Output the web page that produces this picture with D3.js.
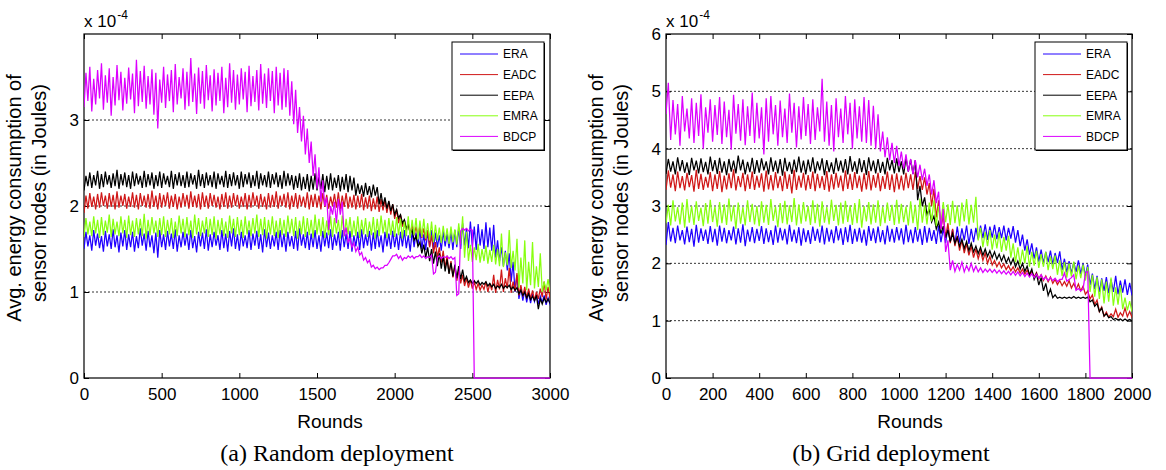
<!DOCTYPE html>
<html lang="en">
<head>
<meta charset="UTF-8">
<title>Avg. energy consumption</title>
<script src="https://d3js.org/d3.v7.min.js"></script>
<style>
body { margin: 0; background: #fff; }
text { font-family: 'Liberation Sans', Arial, sans-serif; fill: #000; }
.caption { font-family: 'Liberation Serif', 'Times New Roman', serif; }
</style>
</head>
<body>
<div id="chart"></div>
<script>

// ---- data (values in units of 1e-4 J) ----
// the curves are very noisy, so every series is kept as the lower and upper
// edge of its noise band at a fixed round step
const seriesNames = ['ERA', 'EADC', 'EEPA', 'EMRA', 'BDCP']
const seriesColors = ['#2000ff', '#d01818', '#000000', '#88ff10', '#dc00ff']

// (a) random deployment, one sample every 25 rounds, 0..3000
const stepA = 25
const xTicksA = [0, 500, 1000, 1500, 2000, 2500, 3000]
const yTicksA = [0, 1, 2, 3]

const eraLoA = [
1.50,1.53,1.48,1.54,1.51,1.47,1.53,1.50,1.52,1.46,
1.53,1.49,1.52,1.47,1.51,1.54,1.48,1.52,1.45,1.40,
1.52,1.49,1.53,1.50,1.47,1.52,1.54,1.49,1.51,1.46,
1.53,1.50,1.48,1.52,1.54,1.49,1.51,1.47,1.53,1.50,
1.48,1.53,1.51,1.49,1.54,1.50,1.46,1.52,1.50,1.53,
1.49,1.52,1.47,1.53,1.50,1.48,1.54,1.51,1.49,1.52,
1.50,1.47,1.53,1.51,1.49,1.54,1.48,1.52,1.50,1.47,
1.53,1.49,1.51,1.54,1.48,1.50,1.52,1.46,1.53,1.50,
1.52,1.49,1.53,1.51,1.47,1.52,1.54,1.50,1.49,1.53,
1.50,1.52,1.48,1.53,1.51,1.49,1.52,1.50,1.54,1.51,
1.53,1.49,1.54,1.50,1.52,1.48,1.40,1.36,1.30,1.25,
1.12,1.00,0.92,0.90,0.88,0.87,0.89,0.86,0.88,0.85,
0.86]
const eraHiA = [
1.70,1.66,1.72,1.68,1.65,1.71,1.67,1.73,1.66,1.69,
1.72,1.67,1.70,1.65,1.74,1.68,1.71,1.66,1.69,1.72,
1.67,1.71,1.68,1.73,1.66,1.70,1.68,1.72,1.65,1.70,
1.69,1.73,1.67,1.70,1.66,1.72,1.68,1.71,1.74,1.67,
1.70,1.66,1.72,1.68,1.71,1.67,1.73,1.69,1.66,1.70,
1.72,1.68,1.70,1.65,1.71,1.74,1.67,1.70,1.68,1.72,
1.66,1.71,1.69,1.73,1.67,1.70,1.72,1.68,1.71,1.66,
1.70,1.73,1.67,1.71,1.69,1.72,1.66,1.70,1.68,1.71,
1.68,1.70,1.72,1.66,1.71,1.69,1.73,1.67,1.70,1.72,
1.69,1.66,1.71,1.68,1.70,1.72,1.75,1.80,1.74,1.82,
1.76,1.79,1.73,1.81,1.75,1.78,1.60,1.52,1.48,1.45,
1.35,1.20,1.05,1.02,1.00,0.98,0.97,0.95,0.96,0.93,
0.95]
const eadcLoA = [
1.92,1.97,1.99,1.96,1.98,2.00,1.97,1.99,1.96,1.98,
2.00,1.97,1.99,1.98,1.96,2.00,1.98,1.97,1.99,1.96,
1.98,2.00,1.97,1.99,1.96,1.98,2.00,1.97,1.99,1.98,
1.96,1.99,1.97,2.00,1.98,1.96,1.99,1.97,1.98,2.00,
1.97,1.99,1.96,1.98,2.00,1.97,1.99,1.96,1.98,1.99,
1.97,2.00,1.98,1.96,1.99,1.97,2.00,1.98,1.96,1.99,
1.98,1.96,1.99,1.97,2.00,1.98,1.96,1.99,1.97,1.98,
1.96,1.98,1.95,1.97,1.94,1.96,1.93,1.95,1.92,1.90,
1.85,1.80,1.76,1.72,1.68,1.66,1.65,1.63,1.60,1.52,
1.45,1.40,1.34,1.28,1.22,1.17,1.13,1.10,1.07,1.05,
1.04,1.03,1.02,1.03,1.00,1.02,0.99,1.03,1.00,1.04,
0.99,1.01,0.96,0.95,0.93,0.92,0.90,0.92,0.94,0.91,
0.93]
const eadcHiA = [
2.12,2.15,2.11,2.14,2.16,2.12,2.15,2.13,2.17,2.12,
2.14,2.11,2.16,2.13,2.15,2.12,2.14,2.18,2.12,2.15,
2.13,2.16,2.12,2.14,2.11,2.15,2.13,2.17,2.12,2.14,
2.16,2.12,2.15,2.13,2.11,2.14,2.16,2.12,2.15,2.13,
2.11,2.15,2.13,2.16,2.12,2.14,2.11,2.15,2.13,2.17,
2.12,2.14,2.16,2.12,2.15,2.13,2.11,2.16,2.13,2.14,
2.12,2.15,2.13,2.11,2.14,2.16,2.12,2.15,2.11,2.13,
2.12,2.14,2.10,2.12,2.09,2.11,2.08,2.07,2.05,2.02,
1.96,1.90,1.84,1.80,1.78,1.76,1.77,1.74,1.72,1.66,
1.58,1.52,1.48,1.42,1.36,1.30,1.25,1.20,1.16,1.14,
1.12,1.10,1.08,1.12,1.10,1.20,1.14,1.26,1.16,1.28,
1.12,1.22,1.08,1.06,1.04,1.02,1.00,1.04,1.12,1.06,
1.08]
const eepaLoA = [
2.18,2.23,2.21,2.24,2.20,2.22,2.25,2.21,2.23,2.20,
2.24,2.22,2.20,2.23,2.25,2.21,2.22,2.24,2.20,2.23,
2.21,2.25,2.22,2.20,2.24,2.23,2.21,2.22,2.25,2.20,
2.23,2.21,2.24,2.22,2.20,2.25,2.22,2.21,2.23,2.24,
2.20,2.22,2.25,2.21,2.23,2.20,2.24,2.22,2.21,2.25,
2.22,2.20,2.23,2.24,2.19,2.21,2.18,2.20,2.17,2.19,
2.18,2.20,2.16,2.19,2.18,2.21,2.17,2.19,2.16,2.18,
2.12,2.14,2.11,2.13,2.10,2.12,2.02,2.00,1.97,1.94,
1.90,1.86,1.80,1.74,1.68,1.60,1.53,1.45,1.40,1.36,
1.33,1.30,1.27,1.24,1.21,1.18,1.16,1.15,1.13,1.11,
1.10,1.10,1.08,1.09,1.07,1.06,1.04,1.05,1.04,1.05,
1.03,1.02,0.98,0.96,0.93,0.91,0.90,0.80,0.86,0.88,
0.87]
const eepaHiA = [
2.35,2.39,2.36,2.41,2.37,2.40,2.36,2.38,2.42,2.37,
2.39,2.36,2.40,2.38,2.35,2.41,2.37,2.39,2.36,2.40,
2.38,2.35,2.41,2.37,2.39,2.36,2.40,2.38,2.36,2.42,
2.37,2.39,2.36,2.40,2.38,2.35,2.41,2.37,2.39,2.36,
2.40,2.37,2.39,2.36,2.41,2.38,2.36,2.40,2.37,2.39,
2.36,2.41,2.38,2.36,2.35,2.38,2.34,2.37,2.35,2.38,
2.34,2.37,2.35,2.38,2.33,2.36,2.34,2.37,2.35,2.33,
2.26,2.24,2.27,2.23,2.25,2.22,2.15,2.10,2.06,2.02,
1.96,1.90,1.84,1.78,1.72,1.65,1.58,1.55,1.52,1.50,
1.47,1.45,1.42,1.38,1.34,1.32,1.30,1.26,1.18,1.14,
1.13,1.13,1.11,1.12,1.10,1.09,1.07,1.09,1.07,1.08,
1.06,1.05,1.02,1.00,0.98,0.95,0.96,0.92,0.93,0.92,
0.91]
const emraLoA = [
1.64,1.67,1.65,1.68,1.63,1.66,1.69,1.64,1.67,1.65,
1.68,1.63,1.66,1.64,1.67,1.65,1.62,1.66,1.68,1.64,
1.66,1.64,1.67,1.63,1.65,1.68,1.64,1.66,1.63,1.67,
1.65,1.68,1.64,1.66,1.62,1.67,1.65,1.63,1.68,1.64,
1.66,1.63,1.67,1.65,1.68,1.64,1.66,1.62,1.67,1.65,
1.63,1.66,1.64,1.68,1.65,1.62,1.67,1.64,1.66,1.63,
1.67,1.65,1.63,1.66,1.64,1.68,1.62,1.65,1.67,1.64,
1.65,1.63,1.67,1.64,1.66,1.62,1.65,1.68,1.63,1.66,
1.64,1.66,1.62,1.65,1.63,1.66,1.61,1.64,1.62,1.60,
1.58,1.60,1.57,1.59,1.56,1.58,1.55,1.56,1.40,1.36,
1.35,1.37,1.34,1.36,1.33,1.35,1.32,1.30,1.29,1.31,
1.28,1.25,1.05,1.10,1.02,1.08,1.04,1.06,1.00,1.02,
1.00]
const emraHiA = [
1.86,1.82,1.88,1.84,1.87,1.83,1.90,1.85,1.82,1.88,
1.84,1.89,1.83,1.86,1.85,1.91,1.84,1.87,1.83,1.86,
1.88,1.84,1.86,1.82,1.89,1.85,1.87,1.83,1.90,1.86,
1.83,1.87,1.85,1.88,1.84,1.86,1.82,1.89,1.85,1.87,
1.84,1.88,1.83,1.86,1.90,1.85,1.87,1.84,1.88,1.83,
1.86,1.84,1.89,1.85,1.87,1.83,1.88,1.86,1.84,1.90,
1.85,1.87,1.83,1.88,1.86,1.84,1.89,1.85,1.87,1.83,
1.88,1.84,1.86,1.82,1.87,1.85,1.89,1.84,1.86,1.83,
1.87,1.85,1.82,1.88,1.84,1.86,1.83,1.85,1.80,1.82,
1.78,1.75,1.77,1.74,1.76,1.73,1.80,1.88,1.70,1.55,
1.52,1.56,1.50,1.54,1.49,1.55,1.50,1.68,1.46,1.72,
1.48,1.62,1.40,1.60,1.35,1.58,1.30,1.45,1.12,1.15,
1.10]
const bdcpLoA = [
3.15,3.22,3.10,3.18,3.25,3.12,3.20,3.05,3.17,3.23,
3.11,3.19,3.24,3.08,3.16,3.21,3.13,3.18,3.06,2.90,
3.20,3.14,3.22,3.09,3.18,3.25,3.12,3.16,3.21,3.07,
3.19,3.13,3.23,3.10,3.17,3.22,3.08,3.15,3.20,3.12,
3.18,3.24,3.09,3.16,3.21,3.11,3.19,3.14,3.22,3.08,
3.17,3.12,3.15,3.05,2.95,2.85,2.75,2.60,2.50,2.35,
2.20,2.05,2.00,1.72,1.90,1.80,1.90,1.65,1.58,1.52,
1.47,1.43,1.37,1.34,1.29,1.27,1.26,1.28,1.31,1.38,
1.42,1.39,1.37,1.39,1.40,1.39,1.41,1.40,1.39,1.40,
1.21,1.40,1.39,1.40,1.39,1.38,0.96,1.71,1.72,1.71,
1.72,0,0,0,0,0,0,0,0,0,
0,0,0,0,0,0,0,0,0,0,
0]
// sample 100: the curve falls from 1.72 straight to zero at ~2505 rounds
const bdcpHiA = [
3.55,3.62,3.48,3.58,3.66,3.52,3.60,3.50,3.64,3.56,
3.49,3.61,3.54,3.70,3.57,3.63,3.51,3.59,3.55,3.47,
3.62,3.53,3.58,3.65,3.50,3.60,3.56,3.72,3.54,3.61,
3.57,3.64,3.52,3.59,3.55,3.62,3.49,3.66,3.58,3.53,
3.60,3.56,3.63,3.51,3.58,3.65,3.54,3.60,3.57,3.62,
3.55,3.60,3.58,3.45,3.35,3.15,3.05,2.90,2.75,2.60,
2.45,2.30,2.10,2.00,2.05,2.08,2.05,1.75,1.62,1.57,
1.52,1.46,1.40,1.37,1.31,1.29,1.28,1.31,1.34,1.42,
1.44,1.42,1.40,1.42,1.42,1.41,1.43,1.42,1.41,1.43,
1.23,1.42,1.41,1.42,1.41,1.40,0.98,1.74,1.74,1.73,
0,0,0,0,0,0,0,0,0,0,
0,0,0,0,0,0,0,0,0,0,
0]

// (b) grid deployment, one sample every 20 rounds, 0..2000
const stepB = 20
const xTicksB = [0, 200, 400, 600, 800, 1000, 1200, 1400, 1600, 1800, 2000]
const yTicksB = [0, 1, 2, 3, 4, 5, 6]

const eraLoB = [
2.32,2.38,2.35,2.40,2.33,2.37,2.29,2.36,2.39,2.34,
2.37,2.31,2.38,2.35,2.40,2.33,2.36,2.30,2.38,2.35,
2.39,2.34,2.37,2.32,2.36,2.40,2.33,2.38,2.35,2.31,
2.37,2.34,2.39,2.36,2.33,2.38,2.35,2.40,2.32,2.37,
2.34,2.38,2.36,2.31,2.39,2.35,2.37,2.33,2.38,2.36,
2.40,2.33,2.37,2.35,2.38,2.32,2.36,2.39,2.34,2.37,
2.35,2.38,2.33,2.36,2.40,2.34,2.37,2.42,2.44,2.41,
2.45,2.42,2.44,2.40,2.43,2.36,2.30,2.22,2.15,2.08,
2.03,2.00,2.02,1.98,2.01,1.88,1.84,1.82,1.85,1.81,
1.78,1.62,1.55,1.50,1.52,1.48,1.50,1.46,1.49,1.45,
1.44]
const eraHiB = [
2.72,2.62,2.66,2.58,2.64,2.60,2.67,2.61,2.59,2.65,
2.60,2.66,2.62,2.58,2.64,2.61,2.68,2.59,2.63,2.60,
2.65,2.61,2.58,2.66,2.62,2.60,2.67,2.59,2.63,2.61,
2.58,2.64,2.60,2.66,2.62,2.59,2.65,2.61,2.63,2.67,
2.60,2.62,2.59,2.65,2.61,2.64,2.58,2.66,2.60,2.63,
2.61,2.67,2.59,2.63,2.60,2.65,2.62,2.58,2.66,2.61,
2.63,2.59,2.64,2.61,2.66,2.60,2.62,2.66,2.68,2.64,
2.67,2.63,2.66,2.62,2.65,2.58,2.50,2.42,2.35,2.28,
2.24,2.20,2.22,2.18,2.21,2.08,2.04,2.02,2.05,2.00,
1.98,1.82,1.78,1.74,1.76,1.72,1.78,1.70,1.72,1.66,
1.62]
const eadcLoB = [
3.28,3.32,3.26,3.31,3.27,3.33,3.25,3.30,3.28,3.32,
3.26,3.30,3.24,3.29,3.31,3.27,3.33,3.26,3.30,3.28,
3.32,3.25,3.29,3.27,3.31,3.26,3.30,3.22,3.28,3.32,
3.27,3.30,3.26,3.31,3.28,3.25,3.29,3.32,3.26,3.30,
3.28,3.31,3.25,3.29,3.27,3.32,3.26,3.30,3.28,3.24,
3.29,3.27,3.31,3.28,3.30,3.28,3.20,3.00,2.80,2.60,
2.45,2.35,2.30,2.22,2.18,2.14,2.10,2.08,2.05,2.00,
1.97,1.94,1.92,1.89,1.87,1.85,1.83,1.81,1.79,1.76,
1.73,1.70,1.68,1.65,1.63,1.61,1.60,1.57,1.55,1.52,
1.46,1.38,1.28,1.16,1.08,1.06,1.07,1.06,1.08,1.07,
1.06]
const eadcHiB = [
3.62,3.55,3.60,3.52,3.58,3.54,3.63,3.56,3.51,3.59,
3.55,3.61,3.53,3.57,3.64,3.52,3.58,3.55,3.60,3.53,
3.57,3.62,3.54,3.59,3.52,3.60,3.55,3.63,3.53,3.58,
3.54,3.60,3.56,3.52,3.61,3.55,3.58,3.53,3.62,3.56,
3.59,3.53,3.57,3.61,3.54,3.58,3.52,3.60,3.55,3.57,
3.53,3.58,3.55,3.60,3.52,3.50,3.40,3.30,3.10,2.85,
2.70,2.60,2.48,2.40,2.34,2.30,2.25,2.22,2.18,2.12,
2.05,2.02,1.99,1.96,1.94,1.92,1.90,1.88,1.86,1.84,
1.80,1.78,1.76,1.72,1.70,1.68,1.70,1.65,1.64,1.60,
1.52,1.45,1.36,1.24,1.15,1.12,1.20,1.14,1.22,1.16,
1.14]
const eepaLoB = [
3.56,3.60,3.55,3.61,3.58,3.54,3.62,3.57,3.59,3.55,
3.61,3.56,3.58,3.54,3.60,3.57,3.62,3.55,3.59,3.56,
3.58,3.62,3.55,3.60,3.57,3.53,3.61,3.56,3.59,3.58,
3.55,3.60,3.57,3.62,3.54,3.59,3.56,3.61,3.58,3.55,
3.60,3.56,3.59,3.54,3.61,3.57,3.58,3.55,3.62,3.57,
3.59,3.55,3.60,3.56,3.10,3.00,2.85,2.72,2.60,2.52,
2.45,2.38,2.35,2.30,2.26,2.22,2.20,2.17,2.14,2.12,
2.10,2.07,2.04,2.01,1.98,1.94,1.90,1.86,1.80,1.72,
1.62,1.52,1.44,1.40,1.39,1.39,1.39,1.39,1.39,1.39,
1.39,1.33,1.25,1.16,1.08,1.05,1.02,1.01,1.00,1.00,
1.00]
const eepaHiB = [
3.82,3.78,3.85,3.80,3.76,3.84,3.79,3.83,3.77,3.86,
3.80,3.84,3.78,3.82,3.79,3.88,3.81,3.77,3.84,3.80,
3.83,3.78,3.85,3.79,3.82,3.84,3.77,3.81,3.86,3.79,
3.81,3.85,3.78,3.83,3.80,3.76,3.84,3.79,3.82,3.87,
3.78,3.83,3.80,3.85,3.79,3.82,3.77,3.84,3.80,3.83,
3.78,3.84,3.81,3.80,3.35,3.15,2.95,2.82,2.72,2.65,
2.58,2.52,2.45,2.42,2.38,2.35,2.30,2.28,2.25,2.22,
2.20,2.16,2.14,2.10,2.08,2.04,2.00,1.95,1.90,1.82,
1.75,1.65,1.55,1.45,1.41,1.41,1.41,1.42,1.41,1.41,
1.41,1.36,1.30,1.22,1.12,1.07,1.04,1.03,1.03,1.02,
1.02]
const emraLoB = [
2.70,2.66,2.73,2.68,2.62,2.71,2.67,2.74,2.65,2.69,
2.72,2.64,2.70,2.67,2.73,2.60,2.69,2.66,2.72,2.68,
2.65,2.71,2.67,2.74,2.63,2.70,2.68,2.72,2.66,2.69,
2.73,2.67,2.70,2.64,2.71,2.68,2.74,2.66,2.69,2.72,
2.67,2.70,2.62,2.73,2.68,2.71,2.65,2.70,2.74,2.67,
2.69,2.72,2.66,2.70,2.58,2.71,2.68,2.73,2.65,2.70,
2.72,2.67,2.70,2.65,2.73,2.68,2.71,2.40,2.28,2.30,
2.24,2.26,2.20,2.22,2.10,2.02,1.98,2.00,1.94,1.96,
1.92,1.94,1.88,1.90,1.80,1.78,1.75,1.77,1.72,1.74,
1.70,1.50,1.42,1.38,1.30,1.33,1.26,1.28,1.20,1.18,
1.16]
const emraHiB = [
3.02,3.10,2.98,3.06,3.12,3.00,3.08,2.97,3.05,3.11,
2.99,3.07,3.03,3.13,3.01,3.06,2.98,3.10,3.04,3.00,
3.08,3.02,3.12,2.99,3.05,3.09,3.01,3.14,3.03,3.07,
3.00,3.10,3.04,3.08,2.98,3.11,3.02,3.06,3.09,3.01,
3.05,3.12,3.00,3.07,3.03,3.10,2.99,3.06,3.02,3.11,
3.04,2.99,3.08,3.02,3.13,3.01,3.06,3.10,3.00,3.07,
3.03,3.09,3.01,3.06,3.12,3.02,3.16,2.62,2.55,2.58,
2.50,2.54,2.46,2.48,2.35,2.28,2.24,2.30,2.20,2.22,
2.16,2.20,2.12,2.14,2.05,2.02,2.00,2.03,1.96,1.98,
1.94,1.80,1.76,1.72,1.68,1.75,1.58,1.62,1.40,1.34,
1.30]
const bdcpLoB = [
4.60,4.15,4.25,4.05,4.30,4.18,4.10,4.22,4.00,4.28,
4.12,4.24,4.08,4.20,3.98,4.26,4.14,4.06,4.22,4.10,
4.18,3.90,4.12,4.25,4.05,4.20,4.10,4.28,4.02,4.16,
4.22,4.08,4.15,4.30,4.12,4.05,3.95,4.20,4.10,4.25,
4.00,4.18,4.12,4.10,4.05,4.00,3.95,3.85,3.80,3.75,
3.70,3.65,3.60,3.55,3.50,3.45,3.35,3.20,3.05,2.60,
2.20,1.88,1.86,1.88,1.85,1.87,1.86,1.85,1.84,1.85,
1.84,1.83,1.82,1.81,1.80,1.79,1.78,1.77,1.76,1.75,
1.74,1.72,1.70,1.70,1.68,1.72,1.69,1.75,1.53,1.52,
1.83,0,0,0,0,0,0,0,0,0,
0]
const bdcpHiB = [
5.15,4.85,4.78,4.92,4.70,4.88,4.80,4.95,4.72,4.86,
4.76,4.90,4.82,4.68,4.94,4.78,4.86,4.74,4.98,4.80,
4.72,4.88,4.92,4.76,4.84,4.70,4.96,4.80,4.74,4.90,
4.78,4.86,4.72,5.22,4.82,4.76,4.88,4.70,4.92,4.80,
4.86,4.74,4.90,4.85,4.75,4.60,4.30,4.20,4.10,4.05,
3.95,3.90,3.82,3.80,3.72,3.65,3.55,3.45,3.25,2.95,
2.40,2.05,1.98,2.02,1.96,2.00,1.95,1.92,1.90,1.90,
1.89,1.88,1.87,1.86,1.86,1.85,1.84,1.83,1.82,1.81,
1.80,1.76,1.75,1.74,1.72,1.83,1.72,1.80,1.56,1.55,
1.86,0,0,0,0,0,0,0,0,0,
0]

// ---- layout ----
const width = 1166, height = 470
const panels = [
  { id: 'a', left: 84, top: 34, right: 550, bottom: 378, xMax: 3000, yMax: 4, step: stepA,
    xTicks: xTicksA, yTicks: yTicksA,
    lo: [eraLoA, eadcLoA, eepaLoA, emraLoA, bdcpLoA],
    hi: [eraHiA, eadcHiA, eepaHiA, emraHiA, bdcpHiA],
    legendX: 452, roundsX: 330, caption: '(a) Random deployment', captionX: 337 },
  { id: 'b', left: 666, top: 34, right: 1132, bottom: 378, xMax: 2000, yMax: 6, step: stepB,
    xTicks: xTicksB, yTicks: yTicksB,
    lo: [eraLoB, eadcLoB, eepaLoB, emraLoB, bdcpLoB],
    hi: [eraHiB, eadcHiB, eepaHiB, emraHiB, bdcpHiB],
    legendX: 1035, roundsX: 910, caption: '(b) Grid deployment', captionX: 891 }
]

let svg = d3.select('#chart').append('svg')
  .attr('width', width).attr('height', height)

function drawPanel(p) {
  let x = d3.scaleLinear().domain([0, p.xMax]).range([p.left, p.right])
  let y = d3.scaleLinear().domain([0, p.yMax]).range([p.bottom, p.top])
  let g = svg.append('g').attr('id', 'panel-' + p.id)

  // clip a hair below the x axis so the BDCP line lying on zero still shows
  g.append('clipPath').attr('id', 'clip-' + p.id)
    .append('rect')
    .attr('x', p.left).attr('y', p.top)
    .attr('width', p.right - p.left).attr('height', p.bottom - p.top + 1)

  // dotted horizontal grid
  g.append('g').selectAll('line')
    .data(y.ticks(p.yMax).filter(d => d > 0 && d < p.yMax))
    .enter().append('line')
    .attr('x1', p.left).attr('x2', p.right)
    .attr('y1', d => y(d)).attr('y2', d => y(d))
    .attr('stroke', '#000').attr('stroke-width', 0.8)
    .attr('stroke-dasharray', '2,2')

  // axes, ticks pointing inwards like matlab
  g.append('g').attr('transform', 'translate(0,' + p.bottom + ')')
    .call(d3.axisBottom(x).tickValues(p.xTicks).tickSize(-5).tickPadding(10).tickFormat(d3.format('d')))
  g.append('g').attr('transform', 'translate(0,' + p.top + ')')
    .call(d3.axisTop(x).tickValues(p.xTicks).tickSize(-5).tickFormat(''))
  g.append('g').attr('transform', 'translate(' + p.left + ',0)')
    .call(d3.axisLeft(y).tickValues(p.yTicks).tickSize(-5).tickPadding(5).tickFormat(d3.format('d')))
  g.append('g').attr('transform', 'translate(' + p.right + ',0)')
    .call(d3.axisRight(y).tickValues(p.yTicks).tickSize(-5).tickFormat(''))
  g.selectAll('.domain').remove()
  g.selectAll('.tick line').attr('stroke', '#000')
  g.selectAll('.tick text').style('font-family', "'Liberation Sans', Arial, sans-serif")
    .style('font-size', '17px')

  g.append('rect')
    .attr('x', p.left).attr('y', p.top)
    .attr('width', p.right - p.left).attr('height', p.bottom - p.top)
    .attr('fill', 'none').attr('stroke', '#000').attr('stroke-width', 1.2)

  // each sample: low edge, then high edge half a step later -> dense noisy trace
  let line = d3.line()
    .x(d => x(d[0]))
    .y(d => y(d[1]))
  let traces = g.append('g').attr('clip-path', 'url(#clip-' + p.id + ')')
  seriesNames.forEach(function(name, k) {
    let pts = []
    p.lo[k].forEach(function(v, i) {
      pts.push([i * p.step, v])
      pts.push([i * p.step + p.step / 2, p.hi[k][i]])
    })
    traces.append('path')
      .datum(pts)
      .attr('class', 'trace-' + name)
      .attr('fill', 'none')
      .attr('stroke', seriesColors[k])
      .attr('stroke-width', 1.25)
      .attr('d', line)
  })

  // exponent
  let ex = g.append('text').attr('x', p.left).attr('y', 27).style('font-size', '17px')
  ex.append('tspan').text('x 10')
  ex.append('tspan').attr('dy', -8).attr('dx', 1).style('font-size', '12px').text('-4')

  // y label (two lines)
  g.append('text')
    .attr('transform', 'translate(' + (p.left - 63) + ',198) rotate(-90)')
    .attr('text-anchor', 'middle').style('font-size', '20px')
    .text('Avg. energy consumption of')
  g.append('text')
    .attr('transform', 'translate(' + (p.left - 38) + ',193) rotate(-90)')
    .attr('text-anchor', 'middle').style('font-size', '20px')
    .text('sensor nodes (in Joules)')

  g.append('text').attr('x', p.roundsX).attr('y', 428)
    .attr('text-anchor', 'middle').style('font-size', '19px').text('Rounds')

  g.append('text').attr('class', 'caption').attr('x', p.captionX).attr('y', 461)
    .attr('text-anchor', 'middle').style('font-size', '24px').text(p.caption)

  drawLegend(g, p.legendX, 42)
}

function drawLegend(g, lx, ly) {
  let w = 92, h = 108
  // matlab style shadow on right/bottom edge
  g.append('rect').attr('x', lx + 1).attr('y', ly + 1).attr('width', w).attr('height', h)
    .attr('fill', '#000')
  g.append('rect').attr('x', lx).attr('y', ly).attr('width', w).attr('height', h)
    .attr('fill', '#fff').attr('stroke', '#000').attr('stroke-width', 1)
  let items = g.append('g').selectAll('g')
    .data(seriesNames)
    .enter().append('g')
    .attr('transform', (d, i) => 'translate(' + lx + ',' + (ly + 12 + i * 20.6) + ')')
  items.append('line')
    .attr('x1', 8).attr('x2', 46).attr('y1', 0).attr('y2', 0)
    .attr('stroke', (d, i) => seriesColors[i]).attr('stroke-width', 1)
  items.append('text')
    .attr('x', 51).attr('dy', '0.36em').style('font-size', '12px')
    .text(d => d)
}

panels.forEach(drawPanel)

</script>
</body>
</html>
